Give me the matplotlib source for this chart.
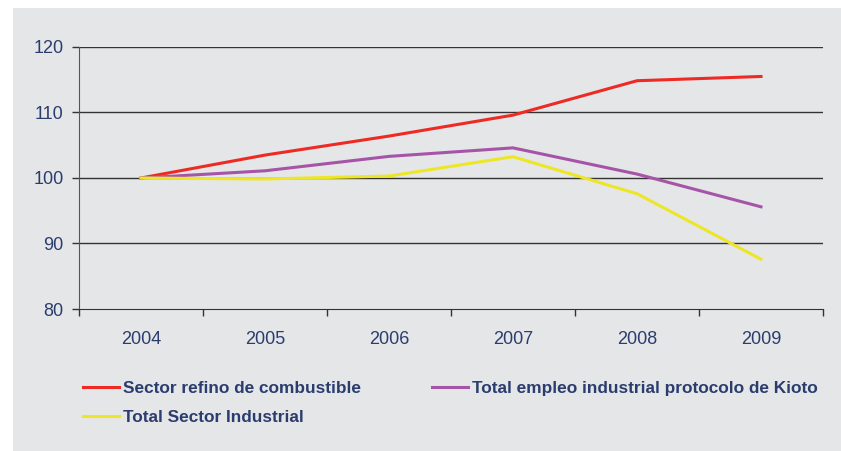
import numpy as np
import matplotlib.pyplot as plt
from matplotlib.patches import Rectangle

# data - index 2004 = 100
years = ['2004', '2005', '2006', '2007', '2008', '2009']
refino = [100, 103.5, 106.4, 109.6, 114.85, 115.5]
kioto = [100, 101.1, 103.3, 104.6, 100.6, 95.6]
industrial = [100, 99.85, 100.3, 103.25, 97.6, 87.6]
yticks = [80, 90, 100, 110, 120]

label_col = '#2b3d6e'
bg = '#e5e6e8'

plt.rcParams['font.family'] = ['Liberation Sans', 'DejaVu Sans']

fig = plt.figure(figsize=(8.41, 4.51), dpi=100)
fig.patch.set_facecolor('white')
# grey panel behind the chart
fig.add_artist(Rectangle((13 / 841, 0), 1, 1 - 8 / 451, transform=fig.transFigure,
                         facecolor=bg, edgecolor='none', zorder=-10))

ax = fig.add_axes([79 / 841, 1 - 309 / 451, (823 - 79) / 841, (309 - 47) / 451])
ax.set_facecolor(bg)

x = np.arange(len(years))
ax.plot(x, refino, color='#ee2a24', lw=2.2, label='Sector refino de combustible', zorder=3)
ax.plot(x, kioto, color='#a654a8', lw=2.2, label='Total empleo industrial protocolo de Kioto', zorder=3)
ax.plot(x, industrial, color='#ede626', lw=2.2, label='Total Sector Industrial', zorder=3)

ax.set_xlim(-0.5, len(years) - 0.5)
ax.set_ylim(80, 120)
ax.set_yticks(yticks)
ax.set_yticklabels([str(v) for v in yticks], color=label_col, fontsize=13)
ax.set_xticks(x)
ax.set_xticklabels(years, color=label_col, fontsize=13)
ax.set_xticks(np.arange(len(years) + 1) - 0.5, minor=True)
ax.tick_params(axis='x', which='major', length=0, pad=16)
ax.tick_params(axis='x', which='minor', length=5, color='#333333', width=1)
ax.tick_params(axis='y', length=5, color='#333333', width=1, pad=6)

for v in yticks[1:]:
    ax.axhline(v, color='#333333', lw=1, zorder=1)

for s in ['top', 'right']:
    ax.spines[s].set_visible(False)
ax.spines['left'].set_color('#555555')
ax.spines['bottom'].set_color('#333333')

handles, labels = ax.get_legend_handles_labels()
order = [0, 2, 1]
leg = fig.legend([handles[i] for i in order], [labels[i] for i in order],
                 loc='upper left', bbox_to_anchor=(83 / 841, 1 - 381 / 451), ncol=2,
                 frameon=False, borderaxespad=0, borderpad=0,
                 handlelength=2.1, handletextpad=0.25,
                 columnspacing=4.08, labelspacing=0.8,
                 prop={'size': 12.4, 'weight': 'bold'})
for t in leg.get_texts():
    t.set_color(label_col)

fig.savefig('out.png', dpi=100, facecolor='white')
